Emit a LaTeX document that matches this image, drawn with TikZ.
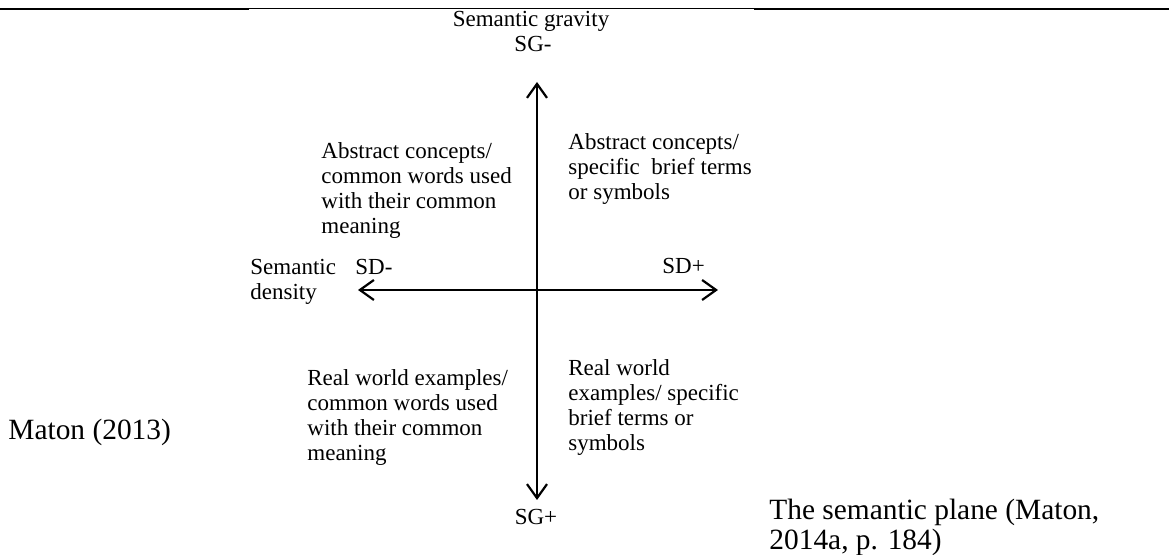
\documentclass[tikz,border=0pt]{standalone}
\usepackage{fontspec}
\setmainfont{Liberation Serif}
\usetikzlibrary{arrows.meta,positioning}

\begin{document}
\begin{tikzpicture}[x=0.5pt,y=-0.5pt]
\tikzstyle{axistext} = [inner sep=0pt, anchor=base, font=\fontsize{11.5}{12.5}\selectfont]
\tikzstyle{quadtext} = [inner sep=0pt, anchor=base west, align=left, font=\fontsize{11.5}{12.5}\selectfont]
\tikzstyle{pagetext} = [inner sep=0pt, anchor=base west, align=left, font=\fontsize{14.7}{15}\selectfont]
\tikzstyle{arrow} = [line width=1.1pt, {Straight Barb[length=7pt,width=10pt]}-{Straight Barb[length=7pt,width=10pt]}]

\useasboundingbox (0,0) rectangle (1169,555);

% rule at the top of the page
\coordinate (r0) at (0,9);
\coordinate (r1) at (249,9);
\coordinate (r2) at (754,9);
\coordinate (r3) at (1169,9);
\draw [line width=1pt] (r0) -- (r1);
\draw [line width=0.5pt] (r1) -- (r2);
\draw [line width=1pt] (r2) -- (r3);

% axes (base of a block = baseline of its last line)
\node (sgname) [axistext] at (531,27) {Semantic gravity};
\node (sgminus) [axistext] at (533,52) {SG-};
\node (sgplus) [axistext] at (536,525) {SG+};
\node (sdname) [quadtext] at (250,300) {Semantic\\density};
\node (sdminus) [quadtext] at (355,275) {SD-};
\node (sdplus) [quadtext] at (662,274) {SD+};

\coordinate (vtop) at (537,82);
\coordinate (vbot) at (537,500);
\coordinate (hleft) at (358,290);
\coordinate (hright) at (718,290);
\draw [arrow] (vtop) -- (vbot);
\draw [arrow] (hleft) -- (hright);

% quadrants
\node (q2) [quadtext] at (321,234) {Abstract concepts/\\common words used\\with their common\\meaning};
\node (q1) [quadtext] at (568,200) {Abstract concepts/\\specific\ \ brief terms\\or symbols};
\node (q3) [quadtext] at (307,461) {Real world examples/\\common words used\\with their common\\meaning};
\node (q4) [quadtext] at (568,451) {Real world\\examples/ specific\\brief terms or\\symbols};

% page text
\node (source) [pagetext] at (8,440) {Maton (2013)};
\node (caption) [pagetext] at (769,550) {The semantic plane (Maton,\\2014a, p. 184)};
\end{tikzpicture}
\end{document}
